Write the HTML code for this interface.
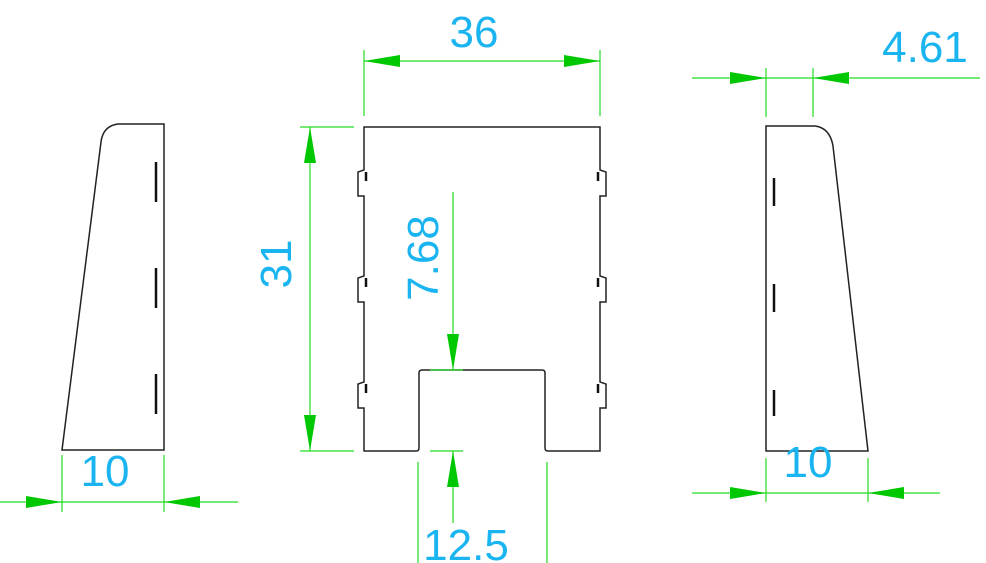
<!DOCTYPE html>
<html><head><style>
html,body{margin:0;padding:0;background:#fff;}
svg{display:block;}
text{font-family:"Liberation Sans",sans-serif;fill:#1ab4f0;font-size:44px;}
</style></head><body>
<svg width="986" height="563" viewBox="0 0 986 563" xmlns="http://www.w3.org/2000/svg">
<defs>
<marker id="a" markerWidth="36" markerHeight="12" refX="36" refY="6" orient="auto" markerUnits="userSpaceOnUse"><path d="M0,0 L36,6 L0,12 Z" fill="#00c800"/></marker>
</defs>
<g fill="none" stroke="#222" stroke-width="1.5">
<!-- left piece -->
<path d="M164,124 L118,124 Q103,126 101,142 L62,450 L164,450 Z"/>
<!-- center piece -->
<path d="M364,127 L600,127 L600,170 L606,172 L606,196 L600,196 L600,276 L606,278 L606,302 L600,302 L600,382 L606,384 L606,408 L600,408 L600,451 L548,451 Q545,451 545,448 L545,373 Q545,370 542,370 L422,370 Q419,370 419,373 L419,448 Q419,451 416,451 L364,451 L364,408 L358,408 L358,384 L364,382 L364,302 L358,302 L358,278 L364,276 L364,196 L358,196 L358,172 L364,170 Z"/>
<!-- right piece -->
<path d="M766,451 L868,451 L833,146 Q830,128 815,126 L766,126 Z"/>
</g>
<g stroke="#111" stroke-width="2.5">
<line x1="156" y1="162" x2="156" y2="202"/><line x1="156" y1="268" x2="156" y2="308"/><line x1="156" y1="374" x2="156" y2="414"/>
<line x1="774" y1="178" x2="774" y2="206"/><line x1="774" y1="284" x2="774" y2="312"/><line x1="774" y1="390" x2="774" y2="416"/>
<line x1="366" y1="172" x2="366" y2="181"/><line x1="366" y1="278" x2="366" y2="287"/><line x1="366" y1="384" x2="366" y2="393"/>
<line x1="598" y1="172" x2="598" y2="181"/><line x1="598" y1="278" x2="598" y2="287"/><line x1="598" y1="384" x2="598" y2="393"/>
</g>
<g stroke="#22dd22" stroke-width="1.2" fill="none">
<!-- 36 -->
<line x1="364" y1="50" x2="364" y2="116"/><line x1="600" y1="50" x2="600" y2="116"/>
<line x1="482" y1="61" x2="364" y2="61" marker-end="url(#a)"/><line x1="482" y1="61" x2="600" y2="61" marker-end="url(#a)"/>
<!-- 31 -->
<line x1="300" y1="127" x2="354" y2="127"/><line x1="300" y1="451" x2="354" y2="451"/>
<line x1="310" y1="289" x2="310" y2="127" marker-end="url(#a)"/><line x1="310" y1="289" x2="310" y2="451" marker-end="url(#a)"/>
<!-- 7.68 -->
<line x1="430" y1="370" x2="463" y2="370"/><line x1="430" y1="451" x2="463" y2="451"/>
<line x1="453" y1="192" x2="453" y2="370" marker-end="url(#a)"/>
<line x1="453" y1="523" x2="453" y2="451" marker-end="url(#a)"/>
<!-- 12.5 -->
<line x1="418" y1="462" x2="418" y2="563"/><line x1="547" y1="462" x2="547" y2="563"/>
<!-- left 10 -->
<line x1="62" y1="455" x2="62" y2="512"/><line x1="164" y1="455" x2="164" y2="512"/>
<line x1="0" y1="502" x2="62" y2="502" marker-end="url(#a)"/><line x1="238" y1="502" x2="164" y2="502" marker-end="url(#a)"/>
<line x1="62" y1="502" x2="164" y2="502"/>
<!-- right 10 -->
<line x1="766" y1="458" x2="766" y2="502"/><line x1="868" y1="458" x2="868" y2="502"/>
<line x1="692" y1="493" x2="766" y2="493" marker-end="url(#a)"/><line x1="940" y1="493" x2="868" y2="493" marker-end="url(#a)"/>
<line x1="766" y1="493" x2="868" y2="493"/>
<!-- 4.61 -->
<line x1="766" y1="68" x2="766" y2="117"/><line x1="813" y1="68" x2="813" y2="117"/>
<line x1="692" y1="78" x2="766" y2="78" marker-end="url(#a)"/><line x1="980" y1="78" x2="813" y2="78" marker-end="url(#a)"/>
<line x1="766" y1="78" x2="813" y2="78"/>
</g>
<text x="474" y="47" text-anchor="middle">36</text>
<text x="925" y="62" text-anchor="middle">4.61</text>
<text x="466" y="560" text-anchor="middle">12.5</text>
<text x="105" y="486" text-anchor="middle">10</text>
<text x="808" y="477" text-anchor="middle">10</text>
<text transform="translate(291,264) rotate(-90)" text-anchor="middle">31</text>
<text transform="translate(438,258) rotate(-90)" text-anchor="middle">7.68</text>
</svg>
</body></html>
